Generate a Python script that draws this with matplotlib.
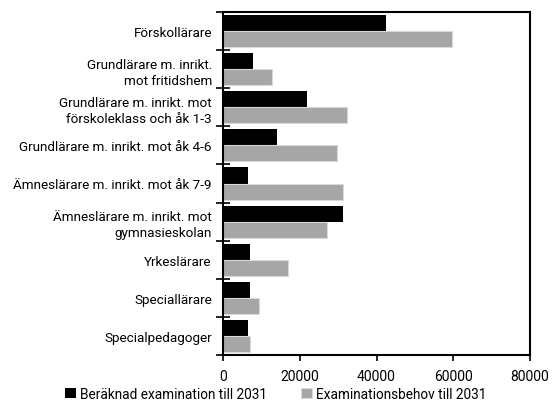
import matplotlib.pyplot as plt
import numpy as np

categories = [
    'Förskollärare',
    'Grundlärare m. inrikt.\nmot fritidshem',
    'Grundlärare m. inrikt. mot\nförskoleklass och åk 1-3',
    'Grundlärare m. inrikt. mot åk 4-6',
    'Ämneslärare m. inrikt. mot åk 7-9',
    'Ämneslärare m. inrikt. mot\ngymnasieskolan',
    'Yrkeslärare',
    'Speciallärare',
    'Specialpedagoger',
]
examination = [42600, 7900, 21800, 14100, 6600, 31300, 7000, 7000, 6600]
behov = [59700, 12700, 32200, 29800, 31300, 27000, 17000, 9400, 7000]

plt.rcParams['font.family'] = ['Roboto', 'DejaVu Sans']

fig = plt.figure(figsize=(5.52, 4.10), dpi=100)
ax = fig.add_axes([223 / 552, 1 - 356 / 410, (530 - 223) / 552, (356 - 13) / 410])

y = np.arange(len(categories))
h = 0.42
ax.barh(y - h / 2, examination, height=h, color='black', label='Beräknad examination till 2031')
ax.barh(y + h / 2, behov, height=h, color='#a6a6a6', edgecolor='#d9d9d9', linewidth=0.8,
        label='Examinationsbehov till 2031')

ax.set_ylim(len(categories) - 0.5, -0.5)
ax.set_xlim(0, 80000)
ax.set_xticks([0, 20000, 40000, 60000, 80000])
ax.set_xticklabels(['0', '20000', '40000', '60000', '80000'], fontsize=10)
ax.tick_params(axis='x', direction='out', length=4, width=1.2, pad=6)

ax.set_yticks(y)
ax.set_yticklabels(categories, fontsize=9.7, ha='right', linespacing=1.3)
ax.tick_params(axis='y', length=0, pad=8)
ax.set_yticks(np.arange(len(categories) + 1) - 0.5, minor=True)
ax.tick_params(axis='y', which='minor', direction='inout', length=10, width=1.2)

for s in ax.spines.values():
    s.set_linewidth(1.5)

fig.legend(loc='lower center', bbox_to_anchor=(0.5, -0.01), ncol=2, frameon=False,
           fontsize=9.8, handlelength=0.8, handleheight=0.8, handletextpad=0.3,
           columnspacing=2.5)

fig.savefig('out.png', dpi=100)
